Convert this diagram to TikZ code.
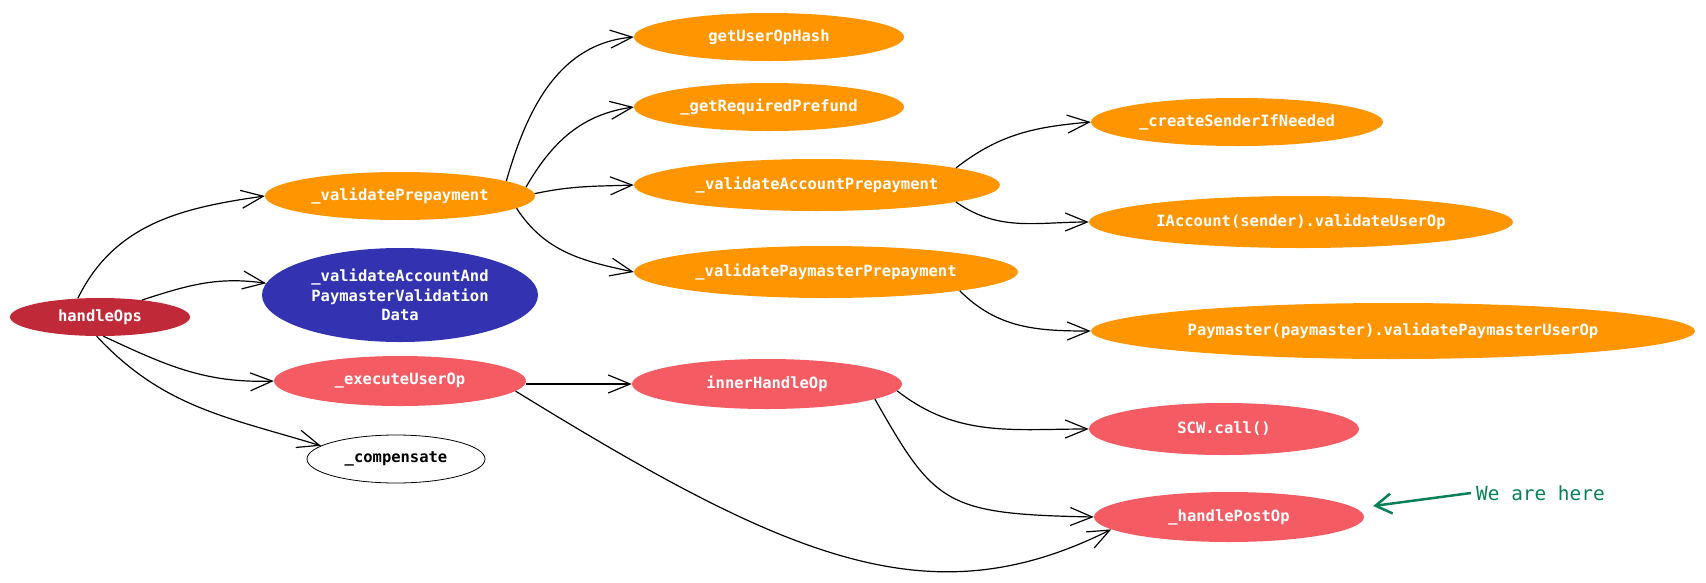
\documentclass[tikz,border=0pt]{standalone}
\usepackage{fontspec}
\setmonofont{DejaVu Sans Mono}
\usetikzlibrary{shapes.geometric,arrows.meta}

\definecolor{ctaronja}{RGB}{255,149,0}
\definecolor{cvermell}{RGB}{192,42,56}
\definecolor{cblau}{RGB}{51,51,178}
\definecolor{crosa}{RGB}{245,91,99}
\definecolor{cverd}{RGB}{8,128,88}

\begin{document}
\begin{tikzpicture}[x=1pt,y=1pt,
	fn/.style={ellipse,inner sep=0pt,text=white,align=center,
		font=\ttfamily\bfseries\fontsize{15.5}{19.6}\selectfont},
	taronja/.style={fn,fill=ctaronja},
	rosa/.style={fn,fill=crosa},
	fl/.style={line width=1.2pt,-{Straight Barb[length=22pt,width=18pt]}}]

	\useasboundingbox (0,0) rectangle (1706,-582);

	% Nodes
	\node[fn,fill=cvermell,minimum width=180,minimum height=38] (hops) at (100,-317) {handleOps};

	\node[taronja,minimum width=270,minimum height=48] (vprep) at (400,-196) {\_validatePrepayment};
	\node[fn,fill=cblau,minimum width=276,minimum height=94] (vdata) at (400,-295) {\_validateAccountAnd\\PaymasterValidation\\Data};
	\node[rosa,minimum width=252,minimum height=50] (exec) at (400,-381) {\_executeUserOp};
	\node[fn,fill=white,draw=black,line width=0.8pt,text=black,minimum width=178,minimum height=48] (comp) at (396,-459) {\_compensate};

	\node[taronja,minimum width=270,minimum height=48] (gethash) at (769,-37) {getUserOpHash};
	\node[taronja,minimum width=270,minimum height=48] (prefund) at (769,-107) {\_getRequiredPrefund};
	\node[taronja,minimum width=366,minimum height=52] (vaccp) at (817,-185) {\_validateAccountPrepayment};
	\node[taronja,minimum width=384,minimum height=52] (vpayp) at (826,-272) {\_validatePaymasterPrepayment};
	\node[rosa,minimum width=270,minimum height=50] (inner) at (767,-384) {innerHandleOp};

	\node[taronja,minimum width=292,minimum height=48] (create) at (1237,-122) {\_createSenderIfNeeded};
	\node[taronja,minimum width=424,minimum height=52] (iacc) at (1301,-222) {IAccount(sender).validateUserOp};
	\node[taronja,minimum width=604,minimum height=56] (paym) at (1393,-331) {Paymaster(paymaster).validatePaymasterUserOp};
	\node[rosa,minimum width=270,minimum height=52] (scw) at (1224,-429) {SCW.call()};
	\node[rosa,minimum width=270,minimum height=50] (post) at (1229,-517) {\_handlePostOp};

	\node[anchor=west,inner sep=5pt,text=cverd,font=\ttfamily\fontsize{19.4}{22}\selectfont] (here) at (1471,-493) {We are here};

	% Fletxes
	\draw[fl] (hops.140) to[out=64,in=188] (vprep.west);
	\draw[fl] (hops.22) to[out=18,in=172] (vdata.175);
	\draw[fl] (hops.-80) to[out=-25,in=182] (exec.west);
	\draw[fl] (hops.-100) to[out=-47,in=163] (comp.170);

	\draw[fl] (vprep.8) to[out=74,in=185] (gethash.west);
	\draw[fl] (vprep.4) to[out=60,in=188] (prefund.west);
	\draw[fl] (vprep.1) to[out=12,in=182] (vaccp.west);
	\draw[fl] (vprep.-6) to[out=-57,in=168] (vpayp.west);

	\draw[fl] (vaccp.7) to[out=38,in=185] (create.west);
	\draw[fl] (vaccp.-7) to[out=-35,in=180] (iacc.west);
	\draw[fl] (vpayp.-8.5) to[out=-45,in=180] (paym.west);

	\draw[fl] (exec.east |- inner.west) -- (inner.west);
	\draw[fl] (exec.-5) .. controls (790,-560) and (930,-620) .. (post.186);

	\draw[fl] (inner.-3) to[out=-38,in=180] (scw.west);
	\draw[fl] (inner.-8) .. controls (935,-505) and (945,-514) .. (post.west);

	% Etiqueta
	\draw[cverd,line width=2.5pt,-{Straight Barb[length=16pt,width=20pt]}] (here.west) -- ([shift={(9,11)}]post.east);

\end{tikzpicture}
\end{document}
